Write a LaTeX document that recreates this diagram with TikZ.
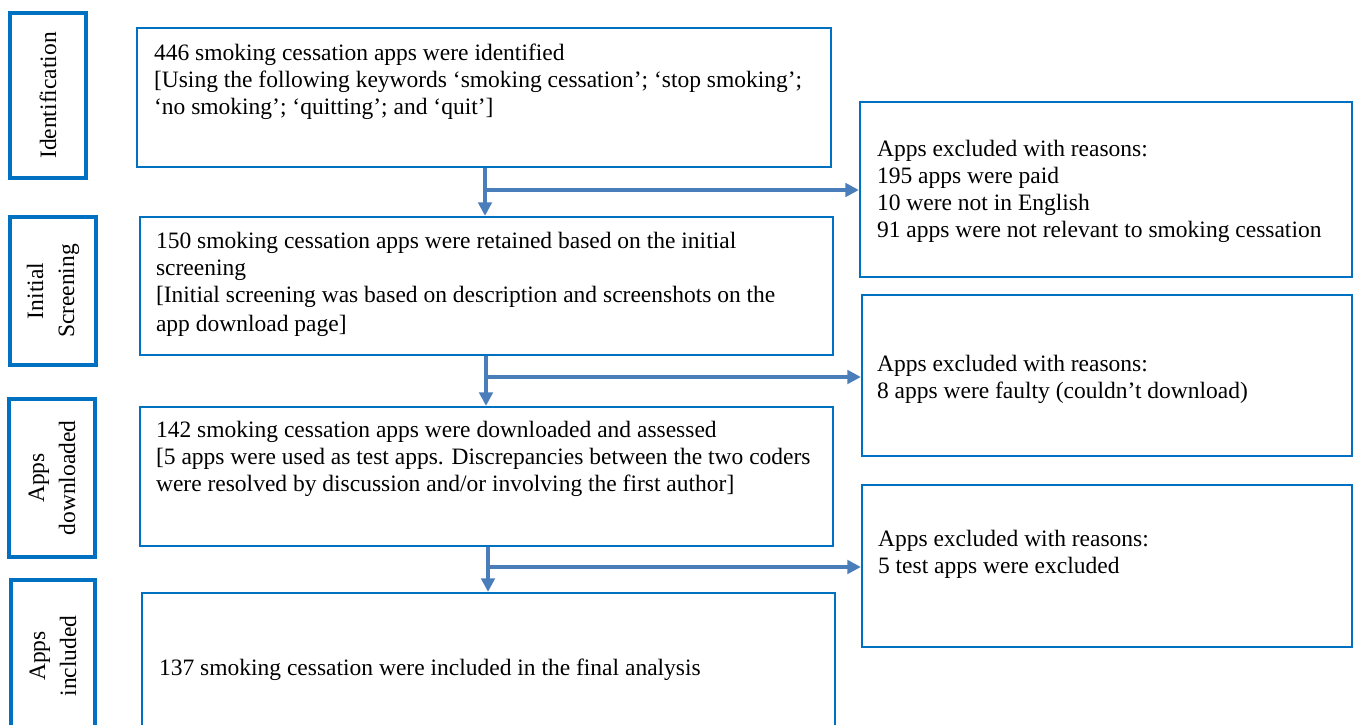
\documentclass[tikz,border=0pt]{standalone}
\usepackage{fontspec}
\setmainfont{Liberation Serif}
\usetikzlibrary{fit,arrows.meta}
\definecolor{boxblue}{HTML}{0070C0}
\definecolor{arrblue}{HTML}{4A7EBB}
\begin{document}
\begin{tikzpicture}[x=1pt,y=-1pt,
  mbox/.style={draw=boxblue, line width=2.3pt, inner sep=0pt, rectangle},
  sidebox/.style={draw=boxblue, line width=4pt, inner sep=0pt, rectangle},
  txt/.style={inner sep=0pt, anchor=north west, align=left,
    font=\fontsize{23.5pt}{27.3pt}\selectfont},
  sidetxt/.style={inner sep=0pt, align=center, rotate=90,
    font=\fontsize{23.5pt}{31pt}\selectfont},
  arr/.style={draw=arrblue, line width=3.2pt, -{Triangle[length=13.5pt,width=13.5pt]}}]
\useasboundingbox (0,0) rectangle (1355,725);
\clip (0,0) rectangle (1355,725);
% side boxes
\node[sidebox, fit={(10,13) (86,178)}] (l1) {};
\node[sidebox, fit={(10,217) (96,365)}] (l2) {};
\node[sidebox, fit={(9,399) (95,557)}] (l3) {};
\node[sidebox, fit={(11,580) (95,732)}] (l4) {};
\node[sidetxt] at (l1.center) {Identification};
\node[sidetxt] at (l2.center) {Initial\\Screening};
\node[sidetxt] at (l3.center) {Apps\\downloaded};
\node[sidetxt] at (l4.center) {Apps\\included};
% main boxes
\node[mbox, fit={(137,28) (831,167)}] (b1) {};
\node[mbox, fit={(140,217) (833,355)}] (b2) {};
\node[mbox, fit={(140,407) (833,546)}] (b3) {};
\node[mbox, fit={(142,593) (835,740)}] (b4) {};
% right boxes
\node[mbox, fit={(860,102) (1352,277)}] (r1) {};
\node[mbox, fit={(862,295) (1352,456)}] (r2) {};
\node[mbox, fit={(862,485) (1352,647)}] (r3) {};
% texts
\node[txt] (t1) at ([shift={(18,13.9)}]b1.north west) {\strut 446 smoking cessation apps were identified\\
{[}Using the following keywords ‘smoking cessation’; ‘stop smoking’;\\
‘no smoking’; ‘quitting’; and ‘quit’]};
\node[txt] (t2) at ([shift={(17,12.9)}]b2.north west) {\strut 150 smoking cessation apps were retained based on the initial\\
screening\\
{[}Initial screening was based on description and screenshots on the\\[1.2pt]
app download page]};
\node[txt] (t3) at ([shift={(17,11.9)}]b3.north west) {\strut 142 smoking cessation apps were downloaded and assessed\\
{[}5 apps were used as test apps. Discrepancies between the two coders\\
were resolved by discussion and/or involving the first author]};
\node[txt] (t4) at ([shift={(18,63.9)}]b4.north west) {\strut 137 smoking cessation were included in the final analysis};
\node[txt] (s1) at ([shift={(18,35.9)}]r1.north west) {\strut Apps excluded with reasons:\\
195 apps were paid\\
10 were not in English\\
91 apps were not relevant to smoking cessation};
\node[txt] (s2) at ([shift={(16,57.9)}]r2.north west) {\strut Apps excluded with reasons:\\
8 apps were faulty (couldn’t download)};
\node[txt] (s3) at ([shift={(17,42.9)}]r3.north west) {\strut Apps excluded with reasons:\\
5 test apps were excluded};
% arrows
\coordinate (j1) at (485,190);
\coordinate (j2) at (486,377);
\coordinate (j3) at (488,567);
\draw[arr] (b1.south -| j1) -- (b2.north -| j1);
\draw[arr] (j1) -- (r1.west |- j1);
\draw[arr] (b2.south -| j2) -- (b3.north -| j2);
\draw[arr] (j2) -- (r2.west |- j2);
\draw[arr] (b3.south -| j3) -- (b4.north -| j3);
\draw[arr] (j3) -- (r3.west |- j3);
\end{tikzpicture}
\end{document}
